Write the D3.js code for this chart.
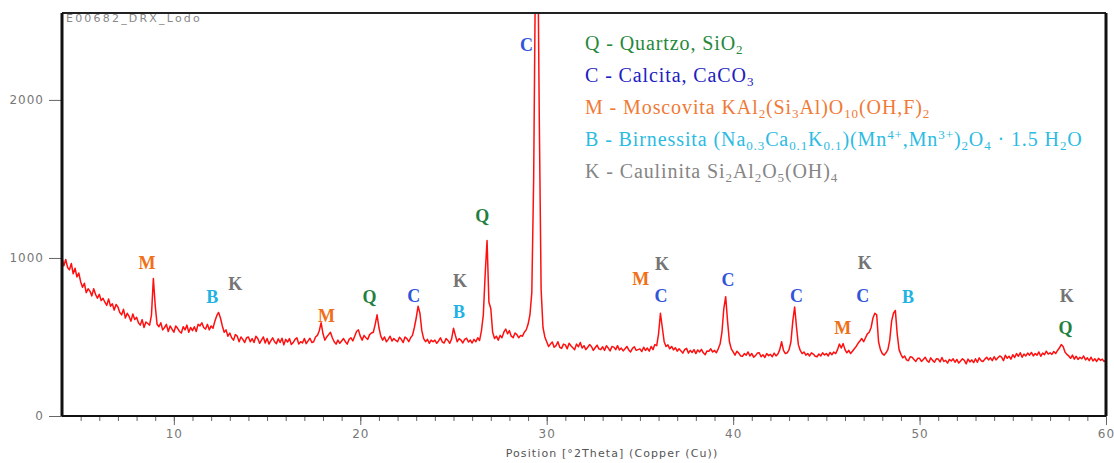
<!DOCTYPE html>
<html>
<head>
<meta charset="utf-8">
<script src="https://cdn.jsdelivr.net/npm/d3@7"></script>
<style>
  body { margin: 0; background: #fff; }
  svg { display: block; }
  .tick text { font-family: "DejaVu Sans", sans-serif; fill: #777; }
  .mark { font-family: "Liberation Serif", serif; font-weight: bold; }
  .legend { font-family: "Liberation Serif", serif; }
</style>
</head>
<body>
<div id="chart"></div>
<script>
// diffractogram, counts, one row per degree (step 0.1 °2θ from 4.0)
var thetaStart = 4.0
var thetaStep = 0.1
var counts = [
  1000, 950, 990, 940, 925, 965, 900, 935, 880, 905,
  850, 815, 840, 780, 805, 790, 760, 805, 770, 745,
  770, 730, 745, 720, 700, 740, 695, 710, 670, 705,
  690, 655, 640, 675, 620, 650, 630, 600, 645, 610,
  625, 590, 575, 610, 560, 595, 585, 575, 640, 870,
  700, 580, 565, 590, 545, 560, 580, 535, 570, 550,
  530, 570, 555, 535, 525, 565, 545, 575, 530, 560,
  540, 565, 535, 580, 570, 590, 560, 550, 580, 545,
  570, 555, 600, 635, 655, 620, 570, 530, 545, 505,
  525, 495, 480, 515, 505, 470, 500, 485, 465, 495,
  500, 470, 490, 465, 505, 490, 460, 480, 500, 462,
  490, 455, 475, 495, 470, 458, 488, 465, 492, 450,
  485, 468, 490, 452, 465, 485, 495, 455, 470, 462,
  490, 458, 475, 492, 465, 470, 500, 510, 540, 590,
  520, 480, 500, 515, 530, 495, 470, 455, 480, 460,
  475, 490, 470, 455, 485, 495, 475, 505, 535, 545,
  505, 480, 510, 495, 485, 515, 525, 530, 580, 640,
  560, 505, 480, 500, 470, 485, 505, 475, 490, 478,
  470, 498, 485, 465, 500, 490, 470, 495, 510, 560,
  620, 695, 650, 540, 490, 470, 485, 460, 480, 470,
  480, 460, 475, 495, 468, 462, 490, 478, 460, 488,
  555, 510, 470, 490, 480, 462, 485, 492, 468, 480,
  462, 485, 470, 495, 478, 540, 640, 900, 1110, 720,
  680, 530, 490, 505, 480, 510, 495, 530, 550, 520,
  540, 505, 495, 525, 515, 495, 510, 505, 530, 545,
  580, 640, 780, 1500, 2900, 3300, 1900, 800, 560, 500,
  470, 440, 455, 468, 435, 445, 470, 435, 428, 455,
  450, 425, 460, 445, 432, 420, 455, 438, 465, 430,
  445, 420, 435, 452, 440, 415, 432, 448, 425, 420,
  438, 415, 445, 430, 412, 440, 436, 420, 445, 418,
  430, 412, 425, 440, 418, 405, 428, 438, 415, 420,
  425, 408, 435, 415, 430, 410, 440, 420, 452, 445,
  520, 650, 560, 470, 440, 450, 425, 440, 418, 432,
  410, 425, 412, 398, 420, 428, 398, 415, 402, 420,
  395, 418, 405, 422, 400, 388, 412, 410, 425, 405,
  415, 400, 425, 455, 530, 680, 755, 600, 470, 425,
  405, 385, 410, 398, 380, 378, 395, 385, 405, 380,
  395, 372, 382, 398, 400, 375, 388, 370, 395, 382,
  390, 375, 398, 380, 392, 420, 470, 415, 395, 400,
  420, 470, 600, 690, 560, 450, 415, 395, 405, 385,
  395, 380, 400, 392, 378, 375, 392, 380, 400, 386,
  395, 380, 402, 388, 405, 395, 420, 455, 430, 458,
  420, 400, 415, 395, 410, 425, 440, 460, 475, 490,
  470, 495, 520, 530, 560, 620, 650, 640, 470, 420,
  395, 385, 400, 420, 480, 600, 650, 668, 520, 420,
  390, 368, 380, 355, 350, 375, 372, 358, 345, 365,
  365, 345, 358, 372, 350, 340, 368, 352, 340, 362,
  360, 342, 370, 345, 352, 335, 358, 348, 362, 340,
  358, 335, 348, 362, 352, 330, 360, 342, 355, 338,
  362, 340, 368, 350, 345, 360, 372, 355, 368, 350,
  375, 355, 368, 380, 372, 350, 385, 365, 378, 360,
  388, 370, 395, 378, 400, 372, 392, 380, 398, 385,
  402, 380, 395, 385, 405, 378, 398, 388, 410, 392,
  400, 390, 408, 395, 415, 430, 452, 440, 405, 390,
  380, 365, 385, 360, 378, 358, 372, 362, 380, 355,
  368, 350, 372, 348, 362, 345, 365, 352, 360, 345,
  355
]

// phase labels: letter, position (°2θ), height (counts)
var markLetters = ['M', 'B', 'K', 'M', 'Q', 'C', 'K', 'B', 'Q', 'C', 'M', 'K', 'C', 'C', 'C', 'K', 'C', 'M', 'B', 'K', 'Q']
var markTheta = [8.56, 12.06, 13.29, 18.19, 20.5, 22.87, 25.35, 25.3, 26.54, 28.91, 35.05, 36.18, 36.13, 39.73, 43.4, 47.06, 46.95, 45.88, 49.38, 57.89, 57.83]
var markCounts = [970, 755, 837, 634, 755, 761, 856, 659, 1268, 2352, 869, 964, 761, 862, 761, 970, 761, 558, 755, 761, 558]

// legend, one line per phase
var phaseKeys = ['Q', 'C', 'M', 'B', 'K']
var phaseLines = [
  [['Q - Quartzo, SiO'], ['2', 'sub']],
  [['C - Calcita, CaCO'], ['3', 'sub']],
  [['M - Moscovita KAl'], ['2', 'sub'], ['(Si'], ['3', 'sub'], ['Al)O'], ['10', 'sub'], ['(OH,F)'], ['2', 'sub']],
  [['B - Birnessita (Na'], ['0.3', 'sub'], ['Ca'], ['0.1', 'sub'], ['K'], ['0.1', 'sub'], [')(Mn'], ['4+', 'sup'], [',Mn'], ['3+', 'sup'], [')'], ['2', 'sub'], ['O'], ['4', 'sub'], [' · 1.5 H'], ['2', 'sub'], ['O']],
  [['K - Caulinita Si'], ['2', 'sub'], ['Al'], ['2', 'sub'], ['O'], ['5', 'sub'], ['(OH)'], ['4', 'sub']]
]

var xTicks = [10, 20, 30, 40, 50, 60]
var yTicks = [0, 1000, 2000]

var markColor = { M: '#f07018', B: '#1fb2e2', K: '#757575', Q: '#1f8040', C: '#2f55da' }
var legendColor = { Q: '#25883a', C: '#2020c0', M: '#f07a36', B: '#2cbbe2', K: '#858585' }

var W = 1114, H = 463
var margin = { top: 13, right: 8, bottom: 47, left: 62 }
var width = W - margin.left - margin.right
var height = H - margin.top - margin.bottom

var svg = d3.select('#chart').append('svg')
  .attr('width', W)
  .attr('height', H)

var x = d3.scaleLinear().domain([4, 60]).range([0, width])
var y = d3.scaleLinear().domain([0, 2550]).range([height, 0])

var g = svg.append('g')
  .attr('transform', 'translate(' + margin.left + ',' + margin.top + ')')

svg.append('defs').append('clipPath').attr('id', 'plotclip')
  .append('rect').attr('width', width).attr('height', height)

// x axis: minor ticks every degree, labelled every ten
var minor = d3.range(5, 60)
g.append('g')
  .attr('transform', 'translate(0,' + height + ')')
  .call(d3.axisBottom(x).tickValues(minor).tickSize(5).tickFormat(''))
  .call(function(a) {
    a.select('.domain').remove()
    a.selectAll('text').remove()
    a.selectAll('line').attr('stroke', '#666')
  })
g.append('g')
  .attr('transform', 'translate(0,' + height + ')')
  .call(d3.axisBottom(x).tickValues(xTicks).tickSize(9).tickPadding(4).tickFormat(d3.format('d')))
  .call(function(a) {
    a.select('.domain').remove()
    a.selectAll('line').attr('stroke', '#666')
    a.selectAll('text').attr('font-size', 12).attr('letter-spacing', 1)
  })

// y axis
g.append('g')
  .call(d3.axisLeft(y).tickValues(yTicks).tickSize(13).tickPadding(5).tickFormat(d3.format('d')))
  .call(function(a) {
    a.select('.domain').remove()
    a.selectAll('line').attr('stroke', '#666')
    a.selectAll('text').attr('font-size', 12).attr('letter-spacing', 1)
  })

// pattern
var line = d3.line()
  .x(function(d, i) { return x(thetaStart + i * thetaStep) })
  .y(function(d) { return y(d) })

g.append('path')
  .datum(counts)
  .attr('clip-path', 'url(#plotclip)')
  .attr('fill', 'none')
  .attr('stroke', '#ff1010')
  .attr('stroke-width', 1.5)
  .attr('stroke-linejoin', 'round')
  .attr('d', line)

// frame
g.append('line').attr('x1', 0).attr('x2', width).attr('y1', 0).attr('y2', 0)
  .attr('stroke', '#222').attr('stroke-width', 2)
g.append('line').attr('x1', 0).attr('x2', width).attr('y1', height).attr('y2', height)
  .attr('stroke', '#111').attr('stroke-width', 2)
g.append('line').attr('x1', 0).attr('x2', 0).attr('y1', 0).attr('y2', height)
  .attr('stroke', '#111').attr('stroke-width', 3)
g.append('line').attr('x1', width).attr('x2', width).attr('y1', 0).attr('y2', height)
  .attr('stroke', '#111').attr('stroke-width', 3)

g.append('text')
  .attr('x', 4).attr('y', 9)
  .attr('font-family', 'DejaVu Sans, sans-serif')
  .attr('font-size', 11)
  .attr('letter-spacing', 2.2)
  .attr('fill', '#888')
  .text('E00682_DRX_Lodo')

svg.append('text')
  .attr('x', 612).attr('y', 457)
  .attr('text-anchor', 'middle')
  .attr('font-family', 'DejaVu Sans, sans-serif')
  .attr('font-size', 11)
  .attr('letter-spacing', 1.1)
  .attr('fill', '#555')
  .text('Position [°2Theta] (Copper (Cu))')

// phase letters over the peaks
g.selectAll('text.mark')
  .data(markLetters)
  .enter()
  .append('text')
  .attr('class', 'mark')
  .attr('x', function(d, i) { return x(markTheta[i]) })
  .attr('y', function(d, i) { return y(markCounts[i]) })
  .attr('dy', '0.35em')
  .attr('text-anchor', 'middle')
  .attr('font-size', 18)
  .attr('fill', function(d) { return markColor[d] })
  .text(function(d) { return d })

// legend
var leg = svg.append('g').attr('class', 'legend')
phaseLines.forEach(function(parts, i) {
  var t = leg.append('text')
    .attr('x', 585)
    .attr('y', 50 + i * 32)
    .attr('font-size', 20)
    .attr('letter-spacing', 0.9)
    .attr('fill', legendColor[phaseKeys[i]])
  parts.forEach(function(p) {
    var s = t.append('tspan').text(p[0])
    if (p[1] === 'sub') s.attr('font-size', 13).attr('baseline-shift', -4)
    if (p[1] === 'sup') s.attr('font-size', 13).attr('baseline-shift', 7)
  })
})
</script>
</body>
</html>
